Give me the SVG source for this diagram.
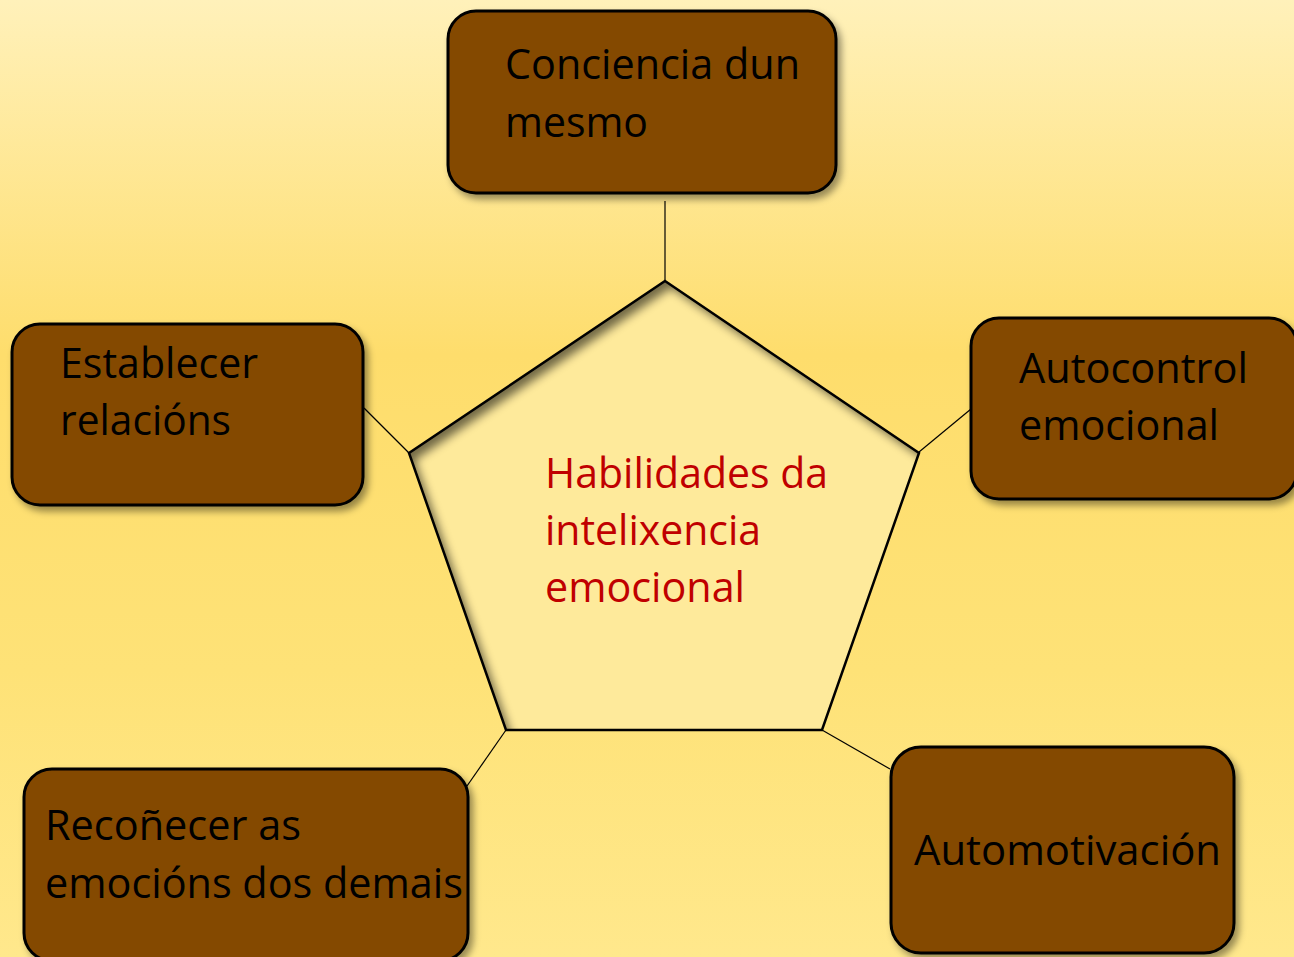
<svg xmlns="http://www.w3.org/2000/svg" width="1294" height="957" viewBox="0 0 1294 957">
<defs>
<linearGradient id="bg" x1="0" y1="0" x2="0" y2="1">
<stop offset="0" stop-color="#FFF1BA"/>
<stop offset="0.37" stop-color="#FEDD6C"/>
<stop offset="0.7" stop-color="#FEE277"/>
<stop offset="1" stop-color="#FFE88C"/>
</linearGradient>
<filter id="shadow" x="-10%" y="-10%" width="130%" height="130%">
<feDropShadow dx="4" dy="5" stdDeviation="3.5" flood-color="#000" flood-opacity="0.4"/>
</filter>
<filter id="blur" x="-20%" y="-20%" width="140%" height="140%">
<feGaussianBlur stdDeviation="5"/>
</filter>
<clipPath id="pentClip">
<polygon points="665,281 919,453 822,730 506,730 409,453"/>
</clipPath>
</defs>
<style>
.box{fill:#844805;stroke:#000;stroke-width:3}
.lbl{font-family:"Open Sans","Noto Sans","Liberation Sans",sans-serif;font-size:42px;fill:#000}
.red{fill:#C00000}
.conn{stroke:#000;stroke-width:1.2;fill:none}
</style>
<rect x="0" y="0" width="1294" height="957" fill="url(#bg)"/>

<g id="connectors">
<line class="conn" x1="665" y1="201" x2="665" y2="281"/>
<line class="conn" x1="364" y1="408" x2="409" y2="453"/>
<line class="conn" x1="919" y1="452" x2="971" y2="409"/>
<line class="conn" x1="506" y1="730" x2="467" y2="786"/>
<line class="conn" x1="822" y1="730" x2="890" y2="769"/>
</g>

<g id="center">
<polygon points="665,281 919,453 822,730 506,730 409,453" fill="#FEEA9B"/>
<g clip-path="url(#pentClip)">
<path d="M300,200 H1000 V800 H300 Z M671,288 L925,460 L828,737 L512,737 L415,460 Z" fill-rule="evenodd" fill="#000" opacity="0.55" filter="url(#blur)"/>
</g>
<polygon points="665,281 919,453 822,730 506,730 409,453" fill="none" stroke="#000" stroke-width="2.5" stroke-linejoin="miter"/>
<text class="lbl red" x="545" y="488" textLength="283" lengthAdjust="spacingAndGlyphs">Habilidades da</text>
<text class="lbl red" x="545" y="545" textLength="216" lengthAdjust="spacingAndGlyphs">intelixencia</text>
<text class="lbl red" x="545" y="602" textLength="200" lengthAdjust="spacingAndGlyphs">emocional</text>
</g>

<g id="node-conciencia">
<rect class="box" x="448" y="11" width="388" height="182" rx="28" filter="url(#shadow)"/>
<text class="lbl" x="505" y="79" textLength="295" lengthAdjust="spacingAndGlyphs">Conciencia dun</text>
<text class="lbl" x="505" y="137" textLength="143" lengthAdjust="spacingAndGlyphs">mesmo</text>
</g>

<g id="node-establecer">
<rect class="box" x="12" y="324" width="351" height="181" rx="28" filter="url(#shadow)"/>
<text class="lbl" x="60" y="378" textLength="198" lengthAdjust="spacingAndGlyphs">Establecer</text>
<text class="lbl" x="60" y="435" textLength="171" lengthAdjust="spacingAndGlyphs">relacións</text>
</g>

<g id="node-autocontrol">
<rect class="box" x="971" y="318" width="326" height="181" rx="28" filter="url(#shadow)"/>
<text class="lbl" x="1019" y="383" textLength="229" lengthAdjust="spacingAndGlyphs">Autocontrol</text>
<text class="lbl" x="1019" y="440" textLength="200" lengthAdjust="spacingAndGlyphs">emocional</text>
</g>

<g id="node-reconecer">
<rect class="box" x="24" y="769" width="444" height="192" rx="28" filter="url(#shadow)"/>
<text class="lbl" x="45" y="840" textLength="256" lengthAdjust="spacingAndGlyphs">Recoñecer as</text>
<text class="lbl" x="45" y="898" textLength="418" lengthAdjust="spacingAndGlyphs">emocións dos demais</text>
</g>

<g id="node-automotivacion">
<rect class="box" x="891" y="747" width="343" height="206" rx="30" filter="url(#shadow)"/>
<text class="lbl" x="914" y="865" textLength="307" lengthAdjust="spacingAndGlyphs">Automotivación</text>
</g>
</svg>
